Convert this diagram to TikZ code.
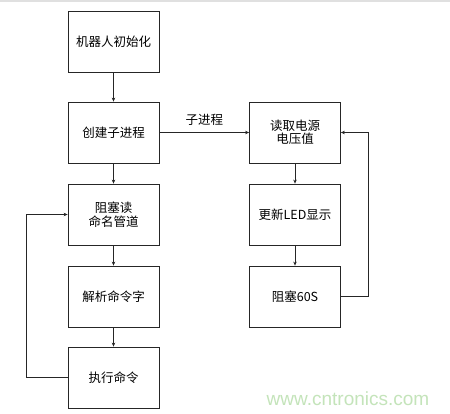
\documentclass[tikz,border=0pt]{standalone}
\usepackage{fontspec}
\setmainfont{Noto Sans CJK SC}
\newfontfamily\wmfont{Liberation Sans}
\usetikzlibrary{arrows.meta}
\definecolor{wmgreen}{RGB}{196,228,186}
\begin{document}
\begin{tikzpicture}[x=1pt,y=-1pt,
  box/.style={draw=black!85,line width=0.8pt,minimum width=91pt,minimum height=61pt,inner sep=0pt,align=center,font=\fontsize{12.5}{13.5}\selectfont},
  arr/.style={draw=black!85,line width=0.7pt,-{Stealth[length=4pt,width=3.5pt]}}]
\useasboundingbox (0,0) rectangle (450,414);
\fill[white] (0,0) rectangle (450,414);
\fill[black!12] (0,0) rectangle (450,2);
\node[box] (a) at (113.5,42) {机器人初始化};
\node[box] (b) at (113.5,132.5) {创建子进程};
\node[box] (c) at (113.5,214.5) {阻塞读\\命名管道};
\node[box] (d) at (113.5,296.5) {解析命令字};
\node[box] (e) at (113.5,377.5) {执行命令};
\node[box] (f) at (295,132.5) {读取电源\\电压值};
\node[box] (g) at (295,214.5) {更新LED显示};
\node[box] (h) at (295,296.5) {阻塞60S};
\draw[arr] (a) -- (b);
\draw[arr] (b) -- (c);
\draw[arr] (c) -- (d);
\draw[arr] (d) -- (e);
\draw[arr] (f) -- (g);
\draw[arr] (g) -- (h);
\draw[arr] (b) -- node[above=3pt,font=\fontsize{12.5}{13.5}\selectfont] (lbl) {子进程} (f);
\coordinate (lx) at (26,0);
\coordinate (rx) at (368,0);
\draw[arr] (e.west) -- (lx |- e.west) -- (lx |- c.west) -- (c.west);
\draw[arr] (h.east) -- (rx |- h.east) -- (rx |- f.east) -- (f.east);
\node[font=\wmfont\fontsize{19}{21}\selectfont,text=wmgreen,anchor=center] (wm) at (348,399) {www.cntronics.com};
\end{tikzpicture}
\end{document}
